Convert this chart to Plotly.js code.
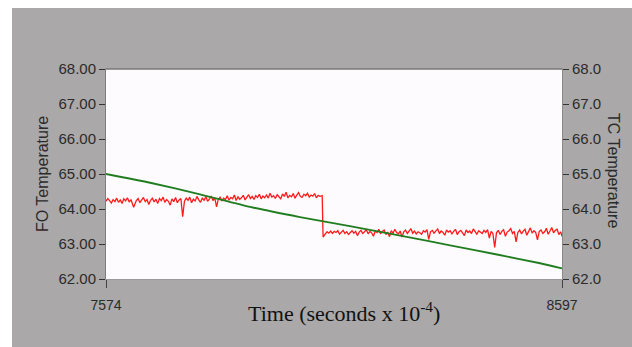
<!DOCTYPE html>
<html>
<head>
<meta charset="utf-8">
<script src="https://cdn.plot.ly/plotly-3.0.1.min.js"></script>
<style>html,body{margin:0;padding:0;background:#fff;}#chart{width:632px;height:347px;}</style>
</head>
<body>
<div id="chart"></div>
<script>
// FO temperature (red, left axis)
const foTime = [7574,7578,7582,7586,7590,7594,7598,7602,7606,7610,7614,7618,7622,7626,7630,7636,7642,7646,7650,7654,7658,7662,7666,7670,7674,7678,7682,7686,7690,7694,7698,7702,7706,7710,7714,7718,7722,7726,7730,7734,7738,7742,7746,7750,7754,7758,7762,7766,7770,7774,7778,7782,7786,7790,7794,7798,7802,7806,7810,7814,7818,7822,7826,7830,7834,7838,7842,7846,7850,7854,7858,7862,7866,7870,7874,7878,7882,7886,7890,7894,7898,7902,7906,7910,7914,7918,7922,7926,7930,7934,7938,7942,7946,7950,7954,7958,7962,7966,7970,7974,7978,7982,7986,7990,7994,7998,8002,8006,8010,8014,8018,8022,8026,8030,8034,8038,8042,8046,8050,8054,8059,8061,8066,8070,8074,8078,8082,8086,8090,8094,8098,8102,8106,8110,8114,8118,8122,8126,8130,8134,8138,8142,8146,8150,8154,8158,8162,8166,8170,8174,8178,8182,8186,8190,8194,8198,8202,8206,8210,8214,8218,8222,8226,8230,8234,8238,8242,8246,8250,8254,8258,8262,8266,8270,8274,8278,8282,8286,8290,8294,8298,8302,8306,8310,8314,8318,8322,8326,8330,8334,8338,8342,8346,8350,8354,8358,8362,8366,8370,8374,8378,8382,8386,8390,8394,8398,8402,8406,8410,8414,8418,8422,8426,8430,8434,8438,8442,8446,8450,8454,8458,8462,8466,8470,8474,8478,8482,8486,8490,8494,8498,8502,8506,8510,8514,8518,8522,8526,8530,8534,8538,8542,8546,8550,8554,8558,8562,8566,8570,8574,8578,8582,8586,8590,8594,8597];
const foTemp = [64.22,64.30,64.24,64.17,64.27,64.21,64.31,64.19,64.26,64.16,64.29,64.23,64.32,64.20,64.27,64.05,64.24,64.30,64.18,64.26,64.33,64.21,64.27,64.13,64.25,64.31,64.20,64.28,64.16,64.30,64.24,64.34,64.19,64.27,64.22,64.11,64.29,64.21,64.33,64.18,64.26,64.30,63.78,64.22,64.31,64.25,64.34,64.18,64.28,64.23,64.36,64.26,64.19,64.31,64.25,64.35,64.22,64.29,64.37,64.24,64.32,64.06,64.28,64.34,64.23,64.31,64.27,64.38,64.25,64.33,64.29,64.40,64.24,64.35,64.28,64.32,64.39,64.26,64.34,64.41,64.30,64.36,64.27,64.38,64.33,64.42,64.29,64.37,64.32,64.40,64.31,64.45,64.34,64.38,64.30,64.41,64.35,64.29,64.43,64.36,64.48,64.32,64.39,64.35,64.44,64.31,64.40,64.47,64.36,64.33,64.42,64.38,64.45,64.34,64.40,64.37,64.44,64.32,64.39,64.36,64.38,
  63.20,63.29,63.35,63.31,63.37,63.30,63.36,63.33,63.38,63.28,
  63.34,63.39,63.30,63.35,63.27,63.33,63.38,63.31,63.36,63.24,
  63.34,63.39,63.30,63.35,63.41,63.29,63.36,63.32,63.22,63.37,
  63.33,63.42,63.29,63.36,63.40,63.27,63.34,63.21,63.38,63.31,
  63.42,63.33,63.29,63.37,63.20,63.35,63.40,63.30,63.36,63.44,
  63.31,63.37,63.29,63.35,
  63.32,63.28,63.38,63.34,63.41,63.13,63.35,63.39,63.31,63.36,
  63.43,63.30,63.37,63.33,63.25,63.40,63.34,63.38,63.29,63.36,
  63.42,63.27,63.35,63.39,63.31,63.24,63.40,63.33,63.37,63.30,
  63.43,63.35,63.28,63.38,63.34,
  63.30,63.39,63.33,
  63.41,63.17,63.36,63.30,62.90,
  63.32,63.39,63.27,63.36,63.41,63.22,63.34,63.38,63.44,63.30,
  63.36,63.06,63.33,63.40,63.29,63.37,63.42,63.25,63.35,63.46,
  63.31,63.38,63.33,63.12,63.36,63.40,63.30,63.35,63.45,63.28,
  63.37,63.47,63.32,63.39,63.42,63.27,63.35,63.22];

// TC temperature (green, right axis)
const tcTime = [7574,7673,7785,7897,8009,8121,8234,8346,8451,8548,8597];
const tcTemp = [65.00,64.75,64.42,64.06,63.77,63.51,63.24,62.96,62.70,62.45,62.30];

const xTicks = [7574, 8597];
const yTicks = [62,63,64,65,66,67,68];

const gray = '#aaa8a9';
const tickFont = {family:'Liberation Sans, Arial, sans-serif', size:15, color:'#2b2b2b'};

const traces = [
  {x: foTime, y: foTemp, type:'scatter', mode:'lines', line:{color:'#ff1a1a', width:1.3}, yaxis:'y', hoverinfo:'skip'},
  {x: tcTime, y: tcTemp, type:'scatter', mode:'lines', line:{color:'#1f7d1f', width:1.8, shape:'spline', smoothing:0.5}, yaxis:'y2', hoverinfo:'skip'}
];

const layout = {
  width:632, height:347,
  margin:{l:106, r:70, t:69, b:68},
  paper_bgcolor: gray,
  plot_bgcolor:'#fdfbfe',
  showlegend:false,
  xaxis:{range:[7574,8597], tickvals:xTicks, ticktext:xTicks.map(String), ticks:'outside', ticklen:8, tickcolor:'#444', ticklabelstandoff:5, tickfont:{family:'Liberation Sans, Arial, sans-serif', size:14, color:'#2b2b2b'}, showgrid:false, zeroline:false, showline:true, linecolor:'#9a9a9a', mirror:true},
  yaxis:{range:[62,68], tickvals:yTicks, tickformat:'.2f', ticks:'outside', ticklen:6, tickcolor:'#333', tickfont:tickFont, showgrid:false, zeroline:false, showline:true, linecolor:'#7d7d7d'},
  yaxis2:{range:[62,68], tickvals:yTicks, tickformat:'.1f', overlaying:'y', side:'right', ticks:'outside', ticklen:6, tickcolor:'#333', tickfont:tickFont, showgrid:false, zeroline:false, showline:true, linecolor:'#8a8a8a'},
  shapes:[
    {type:'rect', xref:'paper', yref:'paper', x0:-0.3, x1:1.2, y0:(279-8)/210, y1:1.5, fillcolor:'#ffffff', line:{width:0}},
    {type:'rect', xref:'paper', yref:'paper', x0:-0.3, x1:(12-106)/456, y0:-0.5, y1:1.5, fillcolor:'#ffffff', line:{width:0}},
    {type:'line', xref:'paper', yref:'paper', x0:0, x1:1, y0:1, y1:1, line:{color:'#7a7a7a', width:1.5}}
  ],
  annotations:[
    {text:'Time (seconds x 10<sup>-4</sup>)', xref:'paper', yref:'paper', x:(344-106)/456, y:(279-312)/210, xanchor:'center', yanchor:'middle', showarrow:false, font:{family:'Liberation Serif, Times New Roman, serif', size:22, color:'#111'}},
    {text:'FO Temperature', xref:'paper', yref:'paper', x:(42-106)/456, y:(279-174)/210, xanchor:'center', yanchor:'middle', textangle:-90, showarrow:false, font:{family:'Liberation Sans, Arial, sans-serif', size:16, color:'#2b2b2b'}},
    {text:'TC Temperature', xref:'paper', yref:'paper', x:(614-106)/456, y:(279-170)/210, xanchor:'center', yanchor:'middle', textangle:90, showarrow:false, font:{family:'Liberation Sans, Arial, sans-serif', size:16, color:'#2b2b2b'}}
  ]
};

Plotly.newPlot('chart', traces, layout, {displayModeBar:false, staticPlot:true});
</script>
</body>
</html>
